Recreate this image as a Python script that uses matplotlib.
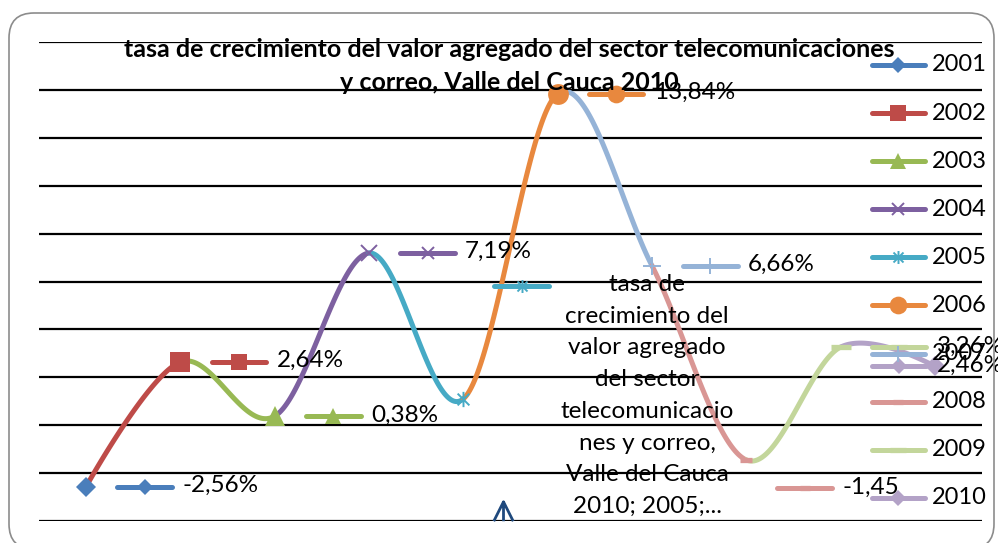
import numpy as np
import matplotlib.pyplot as plt
from matplotlib.patches import FancyBboxPatch
from matplotlib.path import Path
from matplotlib.transforms import IdentityTransform

plt.rcParams['font.family'] = ['Lato', 'DejaVu Sans']

years = ['2001', '2002', '2003', '2004', '2005', '2006', '2007', '2008', '2009', '2010']
values = [-2.56, 2.64, 0.38, 7.19, 1.10, 13.84, 6.66, -1.45, 3.26, 2.46]
label_texts = ['-2,56%', '2,64%', '0,38%', '7,19%',
               'tasa de\ncrecimiento del\nvalor agregado\ndel sector\ntelecomunicacio\n'
               'nes y correo,\nValle del Cauca\n2010; 2005;...',
               '13,84%', '6,66%', '-1,45', '3,26%', '2,46%']
title = ('tasa de crecimiento del valor agregado del sector telecomunicaciones\n'
         'y correo, Valle del Cauca 2010')

colors = ['#4A7EBB', '#BE4B48', '#98B954', '#7D60A0', '#46AAC5',
          '#E8883E', '#95B3D7', '#D99694', '#C3D69B', '#B3A2C7']

# excel moved a few data labels around
label_dy = [0, 0, 0, 0, 4.7, 0, 0, -1.19, 0, 0]
label_dx = [0, 0, 0, 0, 0, 0, 0, 0, 0, -1]

asterisk = Path([(-1, -1), (1, 1), (-1, 1), (1, -1), (0, -1.3), (0, 1.3)],
                [Path.MOVETO, Path.LINETO] * 3)
caret = Path([(-1, -1), (0, 1), (1, -1), (0, 1), (0, -1)],
             [Path.MOVETO, Path.LINETO, Path.LINETO, Path.MOVETO, Path.LINETO])

# marker, size (pt), edge width
markers = [('D', 10, 0), ('s', 14, 0), ('^', 14, 0), ('x', 11, 1.4), (asterisk, 11, 1.4),
           ('o', 15, 0), ('+', 13, 1.4), ('_', 9, 3.8), ('_', 14, 3.8), ('D', 10, 0)]

LW = 3.6
FS = 17.5
# plot area in pixels
X0, X1, Y0, Y1 = 39, 982, 42, 521
YMIN, YMAX = -4, 16


def px2data(px, py):
    x = 0.5 + (px - X0) / (X1 - X0) * 10
    y = YMIN + (Y1 - py) / (Y1 - Y0) * (YMAX - YMIN)
    return x, y


def bezier_segment(pts, i, n=60):
    p0, p3 = pts[i], pts[i + 1]
    c1 = p0 + (pts[i + 1] - pts[i - 1]) / 6 if i > 0 else p0
    c2 = p3 - (pts[i + 2] - pts[i]) / 6 if i + 2 < len(pts) else p3
    t = np.linspace(0, 1, n)[:, None]
    return (1 - t) ** 3 * p0 + 3 * (1 - t) ** 2 * t * c1 + 3 * (1 - t) * t ** 2 * c2 + t ** 3 * p3


def draw_marker(ax, x, y, k, scale=1.0):
    m, s, ew = markers[k]
    filled = ew == 0
    ax.plot([x], [y], marker=m, markersize=s * scale, color=colors[k],
            markerfacecolor=colors[k] if filled else 'none',
            markeredgecolor=colors[k], markeredgewidth=ew if ew else 0,
            linestyle='none', zorder=4, clip_on=False)


fig = plt.figure(figsize=(9.98, 5.43), dpi=100)
ax = fig.add_axes([X0 / 998, 1 - Y1 / 543, (X1 - X0) / 998, (Y1 - Y0) / 543])
ax.set_xlim(0.5, 10.5)
ax.set_ylim(YMIN, YMAX)
ax.set_axis_off()

for g in range(YMIN, YMAX + 1, 2):
    ax.axhline(g, color='black', lw=1.6, zorder=1)

xs = np.arange(1, len(values) + 1)
pts = np.column_stack([xs, values]).astype(float)
for i in range(len(values) - 1):
    seg = bezier_segment(pts, i)
    ax.plot(seg[:, 0], seg[:, 1], color=colors[i + 1], lw=LW,
            solid_capstyle='round', zorder=2)

for k in range(len(values)):
    draw_marker(ax, xs[k], values[k], k)

# data labels with legend key
for k in range(len(values)):
    bx = xs[k] + label_dx[k]
    by = values[k] + label_dy[k]
    ax.plot([bx + 0.33, bx + 0.91], [by, by], color=colors[k], lw=LW,
            solid_capstyle='round', zorder=3, clip_on=False)
    draw_marker(ax, bx + 0.62, by, k, scale=0.85)
    if k == 4:
        tx, ty = px2data(647, 274)
        ax.text(tx, ty, label_texts[k], ha='center', va='top', fontsize=FS,
                linespacing=1.63, zorder=5)
    else:
        ax.text(bx + 1.02, by + 0.05, label_texts[k], ha='left', va='center',
                fontsize=FS, zorder=5, clip_on=False)

# legend
for k, yr in enumerate(years):
    ly = 65 + k * 48.1
    xa, yy = px2data(872, ly)
    xb, _ = px2data(925, ly)
    xm, _ = px2data(898, ly)
    xt, _ = px2data(932, ly)
    ax.plot([xa, xb], [yy, yy], color=colors[k], lw=LW, solid_capstyle='round',
            zorder=3, clip_on=False)
    draw_marker(ax, xm, yy, k, scale=0.85)
    ax.text(xt, yy, yr, ha='left', va='center', fontsize=FS - 0.5, zorder=5, clip_on=False)

# stray glyph near the bottom
cx, cy = px2data(503, 511)
ax.plot([cx], [cy], marker=caret, markersize=14, markerfacecolor='none',
        markeredgecolor='#1F497D', markeredgewidth=2, linestyle='none', zorder=4)

tx, ty = px2data(509, 38)
ax.text(tx, ty, title, ha='center', va='top', fontsize=18, fontweight='bold',
        linespacing=1.5, zorder=6, clip_on=False)

border = FancyBboxPatch((9, -6), 985, 536, boxstyle='round,pad=0,rounding_size=25',
                        transform=IdentityTransform(), facecolor='none',
                        edgecolor='#8C8C8C', lw=1.2)
fig.patches.append(border)

fig.savefig('out.png', dpi=100)
